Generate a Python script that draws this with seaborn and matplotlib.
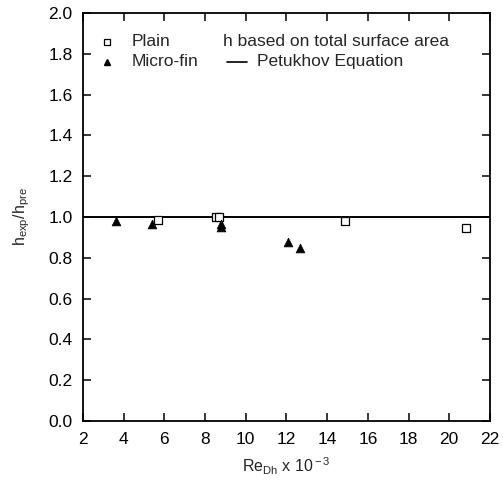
import matplotlib
matplotlib.use("Agg")
import matplotlib.pyplot as plt
import seaborn as sns
import pandas as pd

# Data
plain_re = [5.7, 8.55, 8.7, 14.9, 20.8]
plain_h = [0.985, 1.0, 1.0, 0.978, 0.945]
micro_re = [3.6, 5.4, 8.8, 8.8, 12.1, 12.65]
micro_h = [0.978, 0.965, 0.965, 0.952, 0.876, 0.850]
pet_re = [2, 22]
pet_h = [1.0, 1.0]
xticks = [2, 4, 6, 8, 10, 12, 14, 16, 18, 20, 22]
yticks = [0.0, 0.2, 0.4, 0.6, 0.8, 1.0, 1.2, 1.4, 1.6, 1.8, 2.0]

sns.set_style("ticks")
plt.rcParams['font.family'] = ['Liberation Sans', 'DejaVu Sans']
plt.rcParams['mathtext.fontset'] = 'custom'
plt.rcParams['mathtext.rm'] = 'Liberation Sans'
plt.rcParams['mathtext.it'] = 'Liberation Sans'

fig = plt.figure(figsize=(5.03, 4.8), dpi=100)
ax = fig.add_axes([0.165, 0.123, 0.809, 0.850])

df_p = pd.DataFrame({"x": plain_re, "y": plain_h})
df_m = pd.DataFrame({"x": micro_re, "y": micro_h})
df_l = pd.DataFrame({"x": pet_re, "y": pet_h})

sns.lineplot(data=df_l, x="x", y="y", ax=ax, color="black", linewidth=1.4)
sns.scatterplot(data=df_p, x="x", y="y", ax=ax, marker="s", s=30,
                facecolor="white", edgecolor="black", linewidth=0.9, zorder=3)
sns.scatterplot(data=df_m, x="x", y="y", ax=ax, marker="^", s=40,
                color="black", edgecolor="black", linewidth=0.5, zorder=3)

ax.set_xlim(2, 22)
ax.set_ylim(0, 2.0)
ax.set_xticks(xticks)
ax.set_yticks(yticks)
ax.set_xticklabels([str(t) for t in xticks], fontsize=12.5)
ax.set_yticklabels([f"{t:.1f}" for t in yticks], fontsize=12.5)
ax.tick_params(direction="in", top=True, right=True, length=6, width=1.1,
               colors="black")
ax.tick_params(axis="y", pad=7.5)
ax.tick_params(axis="x", pad=8)
for s in ax.spines.values():
    s.set_linewidth(1.3)
    s.set_color("black")

ax.set_xlabel(r"Re$_{\rm Dh}$ x 10$^{\rm -3}$", fontsize=11.5, labelpad=6)
ax.set_ylabel(r"h$_{\rm exp}$/h$_{\rm pre}$", fontsize=11.5, labelpad=12)

# Legend (manual)
ax.plot([0.059], [0.930], transform=ax.transAxes, marker="s", ms=5,
        mfc="white", mec="black", mew=0.9, ls="none")
ax.plot([0.059], [0.881], transform=ax.transAxes, marker="^", ms=5,
        color="black", ls="none")
ax.plot([0.354, 0.403], [0.881, 0.881], transform=ax.transAxes,
        color="black", lw=1.2)
fs = 12.5
ax.text(0.120, 0.930, "Plain", transform=ax.transAxes, fontsize=fs, va="center")
ax.text(0.120, 0.881, "Micro-fin", transform=ax.transAxes, fontsize=fs, va="center")
ax.text(0.344, 0.930, "h based on total surface area", transform=ax.transAxes,
        fontsize=fs, va="center")
ax.text(0.428, 0.881, "Petukhov Equation", transform=ax.transAxes,
        fontsize=fs, va="center")

fig.savefig("out.png", dpi=100)
